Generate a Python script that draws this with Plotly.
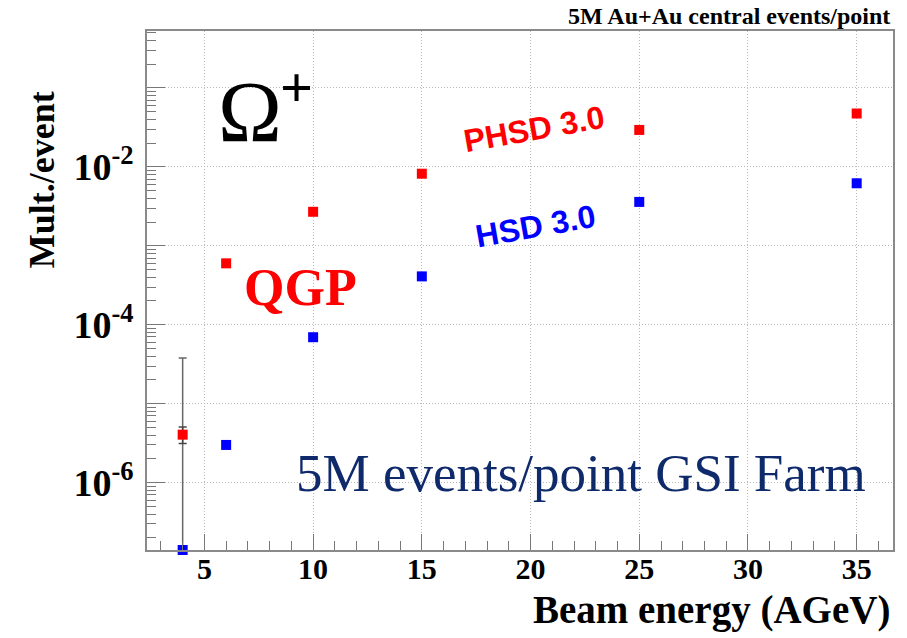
import plotly.graph_objects as go

# Beam energies (AGeV) and Omega+ multiplicities per event
beam_energy = [4, 6, 10, 15, 25, 35]
phsd_mult = [4.05e-6, 6.0e-4, 2.7e-3, 8.2e-3, 2.94e-2, 4.75e-2]
hsd_mult = [1.4e-7, 3.0e-6, 6.95e-5, 4.1e-4, 3.6e-3, 6.2e-3]
phsd_err_hi = [1.0e-6, 0, 0, 0, 0, 0]
phsd_err_lo = [0.93e-6, 0, 0, 0, 0, 0]
hsd_err_hi = [3.79e-5, 0, 0, 0, 0, 0]

x_ticks = [5, 10, 15, 20, 25, 30, 35]
y_ticks = [1e-6, 1e-5, 1e-4, 1e-3, 1e-2, 1e-1]
y_ticktext = ["10<sup>-6</sup>", "", "10<sup>-4</sup>", "", "10<sup>-2</sup>", ""]

W, H = 907, 638
L, R, T, B = 147, 895, 31, 550.5

SERIF = "Liberation Serif, Times New Roman, serif"
SANS = "Liberation Sans, Arial, sans-serif"


def px(x, y):
    """Pixel position -> paper coordinates."""
    return (x - L) / (R - L), (B - y) / (B - T)


fig = go.Figure()

fig.add_trace(go.Scatter(
    x=beam_energy, y=hsd_mult, mode="markers", name="HSD 3.0",
    marker=dict(symbol="square", size=10, color="#0000ff"),
    error_y=dict(type="data", array=hsd_err_hi, arrayminus=[0] * 6,
                 color="#666666", thickness=1.5, width=4),
    cliponaxis=False, showlegend=False,
))
fig.add_trace(go.Scatter(
    x=beam_energy, y=phsd_mult, mode="markers", name="PHSD 3.0",
    marker=dict(symbol="square", size=10, color="#ff0000"),
    error_y=dict(type="data", array=phsd_err_hi, arrayminus=phsd_err_lo,
                 color="#444444", thickness=1.5, width=4),
    cliponaxis=False, showlegend=False,
))

grid = dict(showgrid=True, gridcolor="#b8b8b8", griddash="1px,2px", gridwidth=1)
frame = dict(showline=True, linecolor="#8a8a8a", linewidth=1.5, mirror=True, zeroline=False)

fig.update_xaxes(
    range=[2.36, 36.67], tickmode="array", tickvals=x_ticks,
    ticks="inside", ticklen=16, tickwidth=1.2, tickcolor="#777777",
    minor=dict(dtick=1, tick0=0, ticks="inside", ticklen=9, tickwidth=1.2,
               tickcolor="#777777", showgrid=False),
    tickfont=dict(family=SERIF, size=30, color="black", weight="bold"),
    ticklabelstandoff=-9, **grid, **frame,
)
fig.update_yaxes(
    type="log", range=[-6.854, -0.278], tickmode="array",
    tickvals=y_ticks, ticktext=y_ticktext,
    ticks="inside", ticklen=18, tickwidth=1.2, tickcolor="#777777",
    minor=dict(dtick="D1", ticks="inside", ticklen=9, tickwidth=1.2,
               tickcolor="#777777", showgrid=False),
    tickfont=dict(family=SERIF, size=38, color="black", weight="bold"),
    ticklabelstandoff=4, **grid, **frame,
)


def label(text, x, y, size, color="black", family=SERIF, weight="normal",
          angle=0, xanchor="center"):
    ax, ay = px(x, y)
    fig.add_annotation(
        text=text, x=ax, y=ay, xref="paper", yref="paper",
        xanchor=xanchor, yanchor="middle", showarrow=False, textangle=angle,
        font=dict(family=family, size=size, color=color, weight=weight),
    )


label("Ω", 250, 112, 86)
label("+", 297, 88, 58, weight="bold")
label("QGP", 301, 288, 52, color="#ff0000", weight="bold")
label("PHSD 3.0", 535, 129, 32, color="#ff0000", family=SANS, weight="bold", angle=-10)
label("HSD 3.0", 537, 226, 32, color="#0000ff", family=SANS, weight="bold", angle=-10)
label("5M events/point GSI Farm", 582, 473, 53, color="#0f2a6b")
label("5M Au+Au central events/point", 894, 16, 24, weight="bold", xanchor="right")
label("Beam energy (AGeV)", 894, 611, 39, weight="bold", xanchor="right")
label("Mult./event", 42, 180, 36, weight="bold", angle=-90)

fig.update_layout(
    width=W, height=H,
    margin=dict(l=L, r=W - R, t=T, b=H - B),
    paper_bgcolor="white", plot_bgcolor="white",
    showlegend=False,
)

fig.write_html("out.html")
